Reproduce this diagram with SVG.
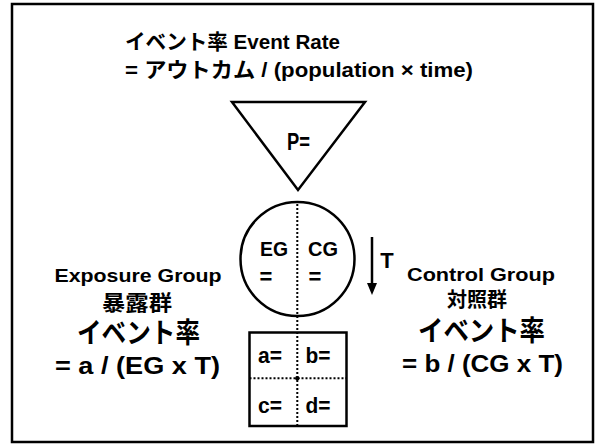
<svg xmlns="http://www.w3.org/2000/svg" width="596" height="444" viewBox="0 0 596 444">
<defs>
<style>
.t{font-family:"Liberation Sans","Noto Sans CJK JP",sans-serif;font-weight:bold;fill:#000}
.s{fill:none;stroke:#000;stroke-width:2.5}
.dot{fill:none;stroke:#000;stroke-width:2;stroke-dasharray:2 2}
</style>
<marker id="ah" markerWidth="12" markerHeight="10" refX="1" refY="5" orient="auto" markerUnits="userSpaceOnUse" viewBox="0 0 12 10">
<path d="M0,0 L12,5 L0,10 Z" fill="#000"/>
</marker>
</defs>
<rect x="0" y="0" width="596" height="444" fill="#fff"/>
<rect id="frame" x="12" y="4" width="581" height="438" class="s" stroke-width="3"/>
<g id="title">
<text class="t" x="125" y="49" font-size="21" textLength="215" lengthAdjust="spacingAndGlyphs">イベント率 Event Rate</text>
<text class="t" x="125" y="77" font-size="21" textLength="348" lengthAdjust="spacingAndGlyphs">= アウトカム / (population × time)</text>
</g>
<g id="population">
<polygon points="232,102 365,102 298,190" class="s" stroke-linejoin="miter"/>
<text class="t" x="298.5" y="150" font-size="23" text-anchor="middle" textLength="23" lengthAdjust="spacingAndGlyphs">P=</text>
</g>
<g id="cohort">
<circle cx="297.5" cy="259" r="57" class="s" stroke-width="2.2"/>
<text class="t" x="274" y="256" font-size="21" text-anchor="middle" textLength="28" lengthAdjust="spacingAndGlyphs">EG</text>
<text class="t" x="323" y="256" font-size="21" text-anchor="middle" textLength="30" lengthAdjust="spacingAndGlyphs">CG</text>
<text class="t" x="266" y="284" font-size="22" text-anchor="middle">=</text>
<text class="t" x="315" y="284" font-size="22" text-anchor="middle">=</text>
</g>
<g id="table">
<rect x="249.5" y="332.5" width="97" height="93.5" class="s" stroke-width="2.2"/>
<text class="t" x="270" y="363" font-size="22" text-anchor="middle" textLength="24" lengthAdjust="spacingAndGlyphs">a=</text>
<text class="t" x="318" y="363" font-size="22" text-anchor="middle" textLength="25" lengthAdjust="spacingAndGlyphs">b=</text>
<text class="t" x="270" y="413" font-size="22" text-anchor="middle" textLength="24" lengthAdjust="spacingAndGlyphs">c=</text>
<text class="t" x="318" y="413" font-size="22" text-anchor="middle" textLength="25" lengthAdjust="spacingAndGlyphs">d=</text>
<line x1="249.5" y1="378.3" x2="346.5" y2="378.3" class="dot"/>
<circle cx="297.3" cy="378.3" r="2.2" fill="#000"/>
</g>
<g id="connectors">
<line x1="297.3" y1="204" x2="297.3" y2="426" class="dot"/>
<line x1="372" y1="237" x2="372" y2="284" stroke="#000" stroke-width="2.5" marker-end="url(#ah)"/>
</g>
<g id="time">
<text class="t" x="387" y="268" font-size="22" text-anchor="middle">T</text>
</g>
<g id="exposure">
<text class="t" x="138" y="282" font-size="18" text-anchor="middle" textLength="167" lengthAdjust="spacingAndGlyphs">Exposure Group</text>
<text class="t" x="137" y="310" font-size="21" text-anchor="middle" textLength="70" lengthAdjust="spacingAndGlyphs">暴露群</text>
<text class="t" x="138.5" y="343" font-size="28" text-anchor="middle" textLength="123" lengthAdjust="spacingAndGlyphs">イベント率</text>
<text class="t" x="137.5" y="374" font-size="23" text-anchor="middle" textLength="165" lengthAdjust="spacingAndGlyphs">= a / (EG x T)</text>
</g>
<g id="control">
<text class="t" x="481" y="281" font-size="18" text-anchor="middle" textLength="148" lengthAdjust="spacingAndGlyphs">Control Group</text>
<text class="t" x="477" y="307" font-size="20" text-anchor="middle" textLength="60" lengthAdjust="spacingAndGlyphs">対照群</text>
<text class="t" x="481.5" y="341" font-size="28" text-anchor="middle" textLength="127" lengthAdjust="spacingAndGlyphs">イベント率</text>
<text class="t" x="482.5" y="372" font-size="23" text-anchor="middle" textLength="161" lengthAdjust="spacingAndGlyphs">= b / (CG x T)</text>
</g>
</svg>
